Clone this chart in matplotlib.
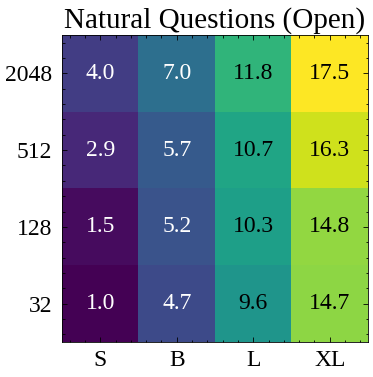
import numpy as np
import matplotlib
matplotlib.use("Agg")
import matplotlib.pyplot as plt
from matplotlib.ticker import AutoMinorLocator

model_sizes = ["S", "B", "L", "XL"]
context_sizes = ["2048", "512", "128", "32"]

scores = np.array([
    [4.0, 7.0, 11.8, 17.5],
    [2.9, 5.7, 10.7, 16.3],
    [1.5, 5.2, 10.3, 14.8],
    [1.0, 4.7, 9.6, 14.7],
])

plt.rcParams.update({
    "font.family": "serif",
    "font.serif": ["Liberation Serif", "DejaVu Serif"],
    "axes.linewidth": 0.6,
    "xtick.direction": "in",
    "ytick.direction": "in",
    "xtick.top": True,
    "ytick.right": True,
    "xtick.major.size": 3.5,
    "ytick.major.size": 3.5,
    "xtick.minor.size": 1.8,
    "ytick.minor.size": 1.8,
    "xtick.major.width": 0.6,
    "ytick.major.width": 0.6,
    "xtick.minor.width": 0.6,
    "ytick.minor.width": 0.6,
    "xtick.minor.visible": True,
    "ytick.minor.visible": True,
})

fig = plt.figure(figsize=(3.73, 3.77), dpi=100)
ax = fig.add_axes([62 / 373, 35 / 377, 306 / 373, 307 / 377])

ax.imshow(scores, cmap="viridis", aspect="auto",
          vmin=scores.min(), vmax=scores.max())

# dark cells get white text
mid = (scores.min() + scores.max()) / 2
for i in range(scores.shape[0]):
    for j in range(scores.shape[1]):
        val = scores[i, j]
        ax.text(j, i, f"{val:.1f}", ha="center", va="center",
                fontsize=17, color="black" if val > mid else "white")

ax.set_xticks(range(len(model_sizes)))
ax.set_xticklabels(model_sizes, fontsize=17)
ax.set_yticks(range(len(context_sizes)))
ax.set_yticklabels(context_sizes, fontsize=17)
ax.xaxis.set_minor_locator(AutoMinorLocator(5))
ax.yaxis.set_minor_locator(AutoMinorLocator(5))
ax.tick_params(axis="y", which="both", pad=7)
ax.tick_params(axis="x", which="both", pad=6)
ax.set_title("Natural Questions (Open)", fontsize=21, pad=5)

fig.savefig("out.png", dpi=100)
